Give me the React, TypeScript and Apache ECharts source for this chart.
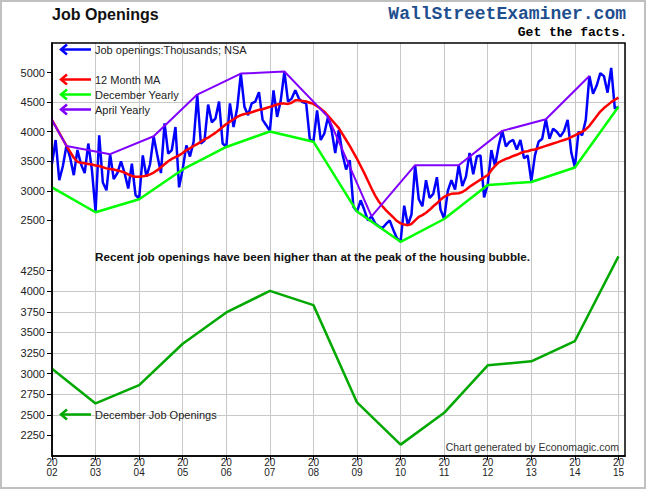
import React, { useEffect, useRef } from "react";
import * as echarts from "echarts";

// Monthly series: first value is Dec 2001 (plotted at 2002.0), last is Dec 2014
const FIRST_POS = 2002;
const jobOpenings = [
  3460,
  3860, 3180, 3420, 3770, 3560, 3265, 3690, 3450, 3300, 3800, 3350, 2650,
  3940, 3140, 3010, 3620, 3200, 3300, 3500, 3300, 3040, 3460, 2930, 2870,
  3600, 3240, 3450, 3920, 3600, 3300, 4140, 3630, 3690, 4080, 3060, 3370,
  3770, 3580, 3830, 4620, 3800, 3850, 4460, 4160, 4220, 4510, 3800, 3745,
  4480, 4080, 4400, 4980, 4420, 4280, 4480, 4510, 4670, 4200, 4110, 4010,
  4700, 4250, 4530, 5015, 4510, 4560, 4700, 4560, 4500, 4480, 3870, 3835,
  4360, 3860, 3970, 4250, 4030, 3640, 4030, 3620, 3360, 3520, 2730, 2650,
  2840, 2680, 2500, 2570, 2450, 2400, 2370, 2440, 2500, 2340, 2200, 2140,
  2750, 2420, 2600, 3434, 2860, 2740, 3180, 2880, 2950, 3230, 2680, 2530,
  3000, 3180, 3020, 3434, 3080, 3240, 3640, 3280, 3580, 3600, 2890, 3110,
  3690, 3420, 3760, 4014, 3750, 3830, 3860, 3700, 3860, 3550, 3600, 3160,
  3600, 3830, 3880, 4211, 3880, 4050, 4000, 3920, 4010, 4200, 3650, 3400,
  4000, 3940, 4200, 4943, 4640, 4780, 4990, 4940, 4660, 5080, 4390, 4420,
];
const movingAvg = [
  4194,
  4090, 3980, 3870, 3760, 3660, 3560, 3490, 3475, 3465, 3455, 3445, 3430,
  3420, 3400, 3380, 3370, 3360, 3345, 3330, 3310, 3280, 3250, 3240, 3240,
  3245, 3255, 3280, 3310, 3350, 3400, 3450, 3500, 3540, 3570, 3600, 3640,
  3690, 3720, 3760, 3790, 3830, 3870, 3900, 3940, 3980, 4030, 4080, 4130,
  4170, 4210, 4250, 4280, 4300, 4310, 4330, 4350, 4370, 4380, 4400, 4420,
  4440, 4460, 4475, 4475, 4470, 4490, 4530, 4530, 4520, 4510, 4490, 4470,
  4430, 4390, 4340, 4270, 4200, 4130, 4060, 3960, 3860, 3760, 3650, 3540,
  3420, 3300, 3170, 3040, 2920, 2820, 2740, 2670, 2610, 2550, 2490, 2450,
  2430, 2420, 2440, 2500, 2560, 2590, 2630, 2680, 2740, 2790, 2850, 2900,
  2930, 2950, 2955, 2960, 2980, 3020, 3070, 3110, 3150, 3190, 3230, 3265,
  3350, 3420, 3480, 3510, 3540, 3560, 3590, 3610, 3640, 3660, 3670, 3690,
  3700, 3720, 3740, 3760, 3780, 3800, 3820, 3840, 3860, 3880, 3910, 3940,
  3970, 4000, 4040, 4100, 4180, 4260, 4340, 4400, 4450, 4500, 4540, 4575,
];
const decYears = [2001, 2002, 2003, 2004, 2005, 2006, 2007, 2008, 2009, 2010, 2011, 2012, 2013, 2014];
const decValues = [3060, 2638, 2859, 3362, 3742, 4004, 3831, 2650, 2138, 2524, 3100, 3149, 3395, 4423];
const aprYears = [2001, 2002, 2003, 2004, 2005, 2006, 2007, 2008, 2009, 2010, 2011, 2012, 2013, 2014];
const aprValues = [5060, 3760, 3620, 3924, 4628, 4983, 5017, 4250, 2570, 3434, 3434, 4014, 4211, 4943];
const topTicks = [2500, 3000, 3500, 4000, 4500, 5000];
const bottomTicks = [2250, 2500, 2750, 3000, 3250, 3500, 3750, 4000, 4250];
const yearTicks = [2002, 2003, 2004, 2005, 2006, 2007, 2008, 2009, 2010, 2011, 2012, 2013, 2014, 2015];

const SANS = "'Liberation Sans', Arial, sans-serif";
const MONO = "'Liberation Mono', 'DejaVu Sans Mono', monospace";
const GRID_COLOR = "#c8c8c8";

function arrow(y: number, color: string) {
  return [
    { type: "line", z: 100, shape: { x1: 61, y1: y, x2: 91, y2: y }, style: { stroke: color, lineWidth: 2.5 } },
    {
      type: "polyline", z: 100,
      shape: { points: [[67, y - 5], [61, y], [67, y + 5]] },
      style: { stroke: color, lineWidth: 2.5, fill: "none" },
    },
  ];
}
function label(text: string, x: number, y: number, extra: any = {}) {
  return {
    type: "text", z: 100, x, y,
    style: { text, fill: "#222", font: `11px ${SANS}`, textVerticalAlign: "middle", ...extra },
  };
}

export default function App() {
  const ref = useRef<HTMLDivElement>(null);
  useEffect(() => {
    const chart = echarts.init(ref.current!, null, { renderer: "svg" });
    const blue = jobOpenings.map((v, i) => [FIRST_POS + i / 12, v]);
    const red = movingAvg.map((v, i) => [FIRST_POS + i / 12, v]);
    const dec = decValues.map((v, i) => [decYears[i] + 1, v]);
    const apr = aprValues.map((v, i) => [aprYears[i] + 4 / 12, v]);

    const xCommon = {
      type: "value", min: 2002, max: 2015.15, interval: 1,
      splitLine: { show: true, lineStyle: { color: GRID_COLOR, width: 1 } },
    };
    const yLabel = {
      fontSize: 11, color: "#222", fontFamily: SANS, margin: 7,
      formatter: (v: number) => String(v),
    };

    chart.setOption({
      animation: false,
      backgroundColor: "#fff",
      grid: [
        { left: 52, right: 25, top: 43, height: 207 },
        { left: 52, right: 25, top: 250, height: 206 },
      ],
      xAxis: [
        { ...xCommon, gridIndex: 0, axisLine: { show: false }, axisTick: { show: false }, axisLabel: { show: false } },
        {
          ...xCommon, gridIndex: 1,
          axisLine: { show: true, lineStyle: { color: "#000", width: 1.5 } },
          axisTick: { show: true, length: 4, customValues: yearTicks, lineStyle: { color: "#000" } },
          axisLabel: {
            show: true, customValues: yearTicks, fontSize: 10, lineHeight: 10.5, color: "#222",
            fontFamily: SANS, margin: 1,
            formatter: (v: number) => "20\n" + String(Math.round(v)).slice(2),
          },
        },
      ],
      yAxis: [
        {
          type: "value", gridIndex: 0, min: 2000, max: 5500, interval: 500,
          axisLine: { show: true, lineStyle: { color: "#000", width: 1.5 } },
          axisTick: { show: true, length: 5, customValues: topTicks, lineStyle: { color: "#000" } },
          axisLabel: { ...yLabel, customValues: topTicks },
          splitLine: { show: true, showMinLine: false, showMaxLine: false, lineStyle: { color: GRID_COLOR } },
        },
        {
          type: "value", gridIndex: 1, min: 2000, max: 4500, interval: 250,
          axisLine: { show: true, lineStyle: { color: "#000", width: 1.5 } },
          axisTick: { show: true, length: 5, customValues: bottomTicks, lineStyle: { color: "#000" } },
          axisLabel: { ...yLabel, customValues: bottomTicks },
          splitLine: { show: true, showMinLine: false, showMaxLine: false, lineStyle: { color: GRID_COLOR } },
        },
      ],
      series: [
        { name: "Job openings:Thousands; NSA", type: "line", xAxisIndex: 0, yAxisIndex: 0, data: blue, showSymbol: false, lineStyle: { color: "#0000ff", width: 2.5 }, z: 2 },
        { name: "12 Month MA", type: "line", xAxisIndex: 0, yAxisIndex: 0, data: red, showSymbol: false, lineStyle: { color: "#ff0000", width: 2.5 }, z: 3 },
        { name: "December Yearly", type: "line", xAxisIndex: 0, yAxisIndex: 0, data: dec, showSymbol: false, lineStyle: { color: "#00ff00", width: 2.5 }, z: 4 },
        { name: "April Yearly", type: "line", xAxisIndex: 0, yAxisIndex: 0, data: apr, showSymbol: false, lineStyle: { color: "#8000ff", width: 2 }, z: 5 },
        { name: "December Job Openings", type: "line", xAxisIndex: 1, yAxisIndex: 1, data: dec, showSymbol: false, lineStyle: { color: "#00a800", width: 2.5 }, z: 4 },
      ],
      graphic: [
        { type: "rect", z: 90, silent: true, shape: { x: 1, y: 1, width: 644, height: 487 }, style: { stroke: "#c0c0c0", lineWidth: 2, fill: "none" } },
        { type: "rect", z: 90, silent: true, shape: { x: 52, y: 43, width: 573, height: 413 }, style: { stroke: "#000", lineWidth: 1.5, fill: "none" } },
        label("Job Openings", 52, 14, { font: `bold 16px ${SANS}`, fill: "#111" }),
        label("WallStreetExaminer.com", 626, 14, { font: `bold 18px ${MONO}`, fill: "#1f4f8f", textAlign: "right" }),
        label("Get the facts.", 627, 32, { font: `bold 13px ${MONO}`, fill: "#000", textAlign: "right" }),
        ...arrow(49.5, "#0000ff"),
        label("Job openings:Thousands; NSA", 95, 49.5),
        ...arrow(79.5, "#ff0000"),
        label("12 Month MA", 95, 79.5),
        ...arrow(94.5, "#00ff00"),
        label("December Yearly", 95, 94.5),
        ...arrow(109.5, "#8000ff"),
        label("April Yearly", 95, 109.5),
        label("Recent job openings have been higher than at the peak of the housing bubble.", 95, 256, { font: `bold 11.7px ${SANS}`, fill: "#111" }),
        ...arrow(414.5, "#00a800"),
        label("December Job Openings", 95, 414.5),
        label("Chart generated by Economagic.com", 619, 446.5, { fill: "#333", textAlign: "right", font: `10.5px ${SANS}` }),
      ],
    });
    return () => chart.dispose();
  }, []);
  return (
    <div
      ref={ref}
      style={{ position: "fixed", left: 0, top: 0, width: 650, height: 490, background: "#fff" }}
    />
  );
}
